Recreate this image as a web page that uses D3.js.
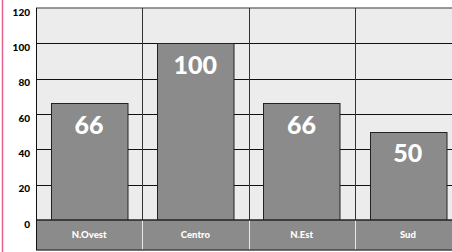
<!DOCTYPE html>
<html>
<head>
<meta charset="utf-8">
<script src="https://cdn.jsdelivr.net/npm/d3@7"></script>
<style>
  body { margin: 0; background: #fff; }
  svg { display: block; }
</style>
</head>
<body>
<div id="chart"></div>
<script>
const categories = ['N.Ovest', 'Centro', 'N.Est', 'Sud'];
const values = [66, 100, 66, 50];
const yTicks = [0, 20, 40, 60, 80, 100, 120];

const width = 452;
const height = 252;
const margin = { top: 8, bottom: 32, left: 36, right: -9 };
const bandH = 30;

const svg = d3.select('#chart')
  .append('svg')
  .attr('width', width)
  .attr('height', height);

// pink page edge
svg.append('line')
  .attr('x1', 2.5).attr('x2', 2.5)
  .attr('y1', 0).attr('y2', height)
  .attr('stroke', '#e2608f')
  .attr('stroke-width', 1.5);

const x = d3.scaleBand()
  .domain(categories)
  .range([margin.left, width - margin.right])
  .paddingInner(0.28)
  .paddingOuter(0.14);

const step = x.step();

const y = d3.scaleLinear()
  .domain([0, 120])
  .range([height - margin.bottom, margin.top]);

// plot background
svg.append('rect')
  .attr('x', margin.left)
  .attr('y', y(120))
  .attr('width', width - margin.right - margin.left)
  .attr('height', y(0) - y(120))
  .attr('fill', '#ececec');

// horizontal gridlines
svg.append('g')
  .selectAll('line')
  .data(yTicks.filter(d => d > 0 && d < 120))
  .join('line')
    .attr('x1', margin.left)
    .attr('x2', width)
    .attr('y1', d => Math.round(y(d)) + 0.5)
    .attr('y2', d => Math.round(y(d)) + 0.5)
    .attr('stroke', '#111')
    .attr('stroke-width', 1);

// top border
svg.append('line')
  .attr('x1', margin.left).attr('x2', width)
  .attr('y1', y(120)).attr('y2', y(120))
  .attr('stroke', '#777')
  .attr('stroke-width', 1.5);

// vertical separators in the plot
svg.append('g')
  .selectAll('line')
  .data(categories.slice(1))
  .join('line')
    .attr('x1', d => Math.round(x(d) - step * 0.14) + 0.5)
    .attr('x2', d => Math.round(x(d) - step * 0.14) + 0.5)
    .attr('y1', y(120))
    .attr('y2', y(0))
    .attr('stroke', '#333')
    .attr('stroke-width', 1);

// bars
svg.append('g')
  .selectAll('rect')
  .data(values)
  .join('rect')
    .attr('x', (d, i) => Math.round(x(categories[i])) + 0.5)
    .attr('y', d => Math.round(y(d)) + 0.5)
    .attr('width', x.bandwidth())
    .attr('height', d => y(0) - Math.round(y(d)))
    .attr('fill', '#8b8b8b')
    .attr('stroke', '#222')
    .attr('stroke-width', 1);

// value labels
svg.append('g')
  .selectAll('text')
  .data(values)
  .join('text')
    .attr('x', (d, i) => x(categories[i]) + x.bandwidth() / 2)
    .attr('y', d => y(d) + 30.5)
    .attr('text-anchor', 'middle')
    .attr('fill', '#fff')
    .attr('font-family', 'Lato, sans-serif')
    .attr('font-weight', 900)
    .attr('font-size', '25px')
    .text(d => d);

// category band
svg.append('rect')
  .attr('x', margin.left)
  .attr('y', y(0))
  .attr('width', width - margin.left)
  .attr('height', bandH)
  .attr('fill', '#8b8b8b');

svg.append('g')
  .selectAll('line')
  .data(categories.slice(1))
  .join('line')
    .attr('x1', d => Math.round(x(d) - step * 0.14) + 0.5)
    .attr('x2', d => Math.round(x(d) - step * 0.14) + 0.5)
    .attr('y1', y(0))
    .attr('y2', y(0) + bandH)
    .attr('stroke', '#e8e8e8')
    .attr('stroke-width', 1);

svg.append('line')
  .attr('x1', margin.left).attr('x2', width)
  .attr('y1', y(0) + bandH).attr('y2', y(0) + bandH)
  .attr('stroke', '#444')
  .attr('stroke-width', 1.5);

svg.append('line')
  .attr('x1', margin.left).attr('x2', width)
  .attr('y1', y(0)).attr('y2', y(0))
  .attr('stroke', '#222')
  .attr('stroke-width', 1.5);

// left border
svg.append('line')
  .attr('x1', margin.left + 0.5).attr('x2', margin.left + 0.5)
  .attr('y1', y(120)).attr('y2', y(0) + bandH)
  .attr('stroke', '#111')
  .attr('stroke-width', 1);

// category labels
svg.append('g')
  .selectAll('text')
  .data(categories)
  .join('text')
    .attr('x', d => x(d) + x.bandwidth() / 2)
    .attr('y', y(0) + 18)
    .attr('text-anchor', 'middle')
    .attr('fill', '#fff')
    .attr('font-family', 'Lato, sans-serif')
    .attr('font-weight', 900)
    .attr('font-size', '9.5px')
    .text(d => d);

// y axis labels
const yAxis = g => g
  .attr('transform', `translate(${margin.left - 6}, 4)`)
  .call(d3.axisLeft(y).tickValues(yTicks).tickSize(0).tickPadding(0))
  .call(g => g.select('.domain').remove())
  .call(g => g.selectAll('text')
    .attr('fill', '#000')
    .attr('font-family', 'Lato, sans-serif')
    .attr('font-weight', 900)
    .attr('font-size', '10px'));

svg.append('g').call(yAxis);
</script>
</body>
</html>
